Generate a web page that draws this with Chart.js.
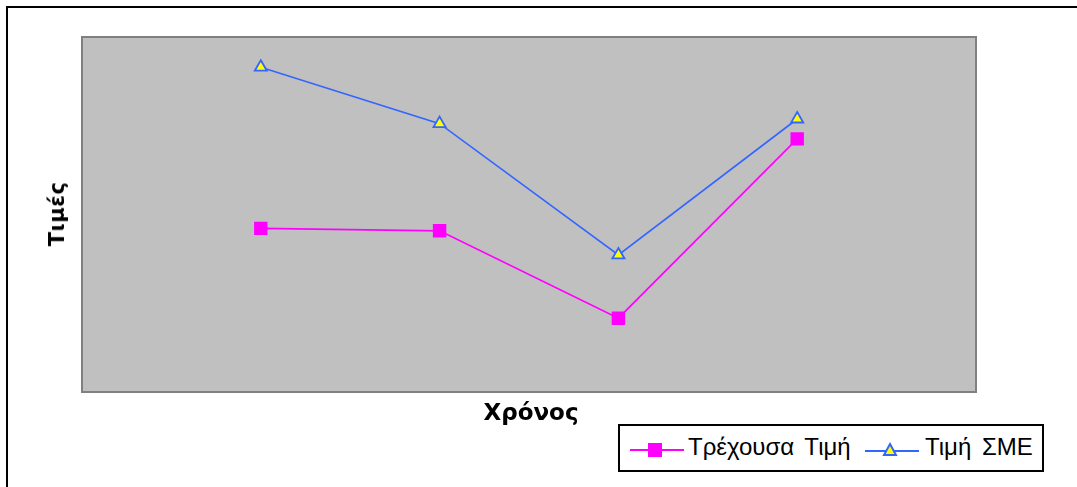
<!DOCTYPE html>
<html>
<head>
<meta charset="utf-8">
<script src="https://cdn.jsdelivr.net/npm/chart.js@4/dist/chart.umd.min.js"></script>
<style>
  html, body { margin: 0; padding: 0; background: #fff; }
  #wrap { position: relative; width: 1077px; height: 487px; overflow: hidden; }
  #frame { position: absolute; left: 6px; top: 6px; width: 1200px; height: 600px; border: 2px solid #000; }
  #chart { position: absolute; left: 0; top: 0; }
  .axis-title { position: absolute; font-family: "DejaVu Sans", sans-serif; font-weight: bold; font-size: 21px; color: #000; white-space: nowrap; }
  #xTitle { left: 531px; top: 412px; transform: translate(-50%, -50%); font-size: 23px; }
  #yTitle { left: 57px; top: 214px; transform: translate(-50%, -50%) rotate(-90deg); letter-spacing: 0.5px; }
  #legend { position: absolute; left: 618px; top: 424px; width: 422px; height: 44px; border: 2px solid #000; background: #fff;
            font-family: "Liberation Sans", Arial, sans-serif; font-size: 24px; color: #000; }
  #legend svg, #legend span { position: absolute; display: block; }
  #legend span { top: 50%; transform: translateY(-52%); white-space: nowrap; word-spacing: 4px; }
</style>
</head>
<body>
<div id="wrap">
  <div id="frame"></div>
  <canvas id="chart" width="1077" height="487"></canvas>
  <div id="xTitle" class="axis-title">Χρόνος</div>
  <div id="yTitle" class="axis-title">Τιμές</div>
  <div id="legend">
    <svg style="left:10px; top:14px" width="54" height="20"><line x1="0" y1="10" x2="54" y2="10" stroke="#FF00FF" stroke-width="2"/><rect x="18" y="3" width="14" height="14" fill="#FF00FF"/></svg>
    <span style="left:68px">Τρέχουσα Τιμή</span>
    <svg style="left:245px; top:14px" width="54" height="20"><line x1="0" y1="11" x2="54" y2="11" stroke="#3366FF" stroke-width="2"/><polygon points="25,4 31,15 19,15" fill="#FFFF00" stroke="#3366FF" stroke-width="2"/></svg>
    <span style="left:305px">Τιμή ΣΜΕ</span>
  </div>
</div>
<script>
// periods on the x axis; the first and last slots stay empty
const periods = ['', '1', '2', '3', '4', ''];
const currentPrice = [null, 46.1, 45.4, 20.8, 71.3, null];
const smePrice = [null, 91.5, 75.6, 38.6, 76.9, null];

// grey plot area with a darker frame
const plotBackground = {
  id: 'plotBackground',
  beforeDraw(chart) {
    const { ctx, chartArea: a } = chart;
    ctx.save();
    ctx.fillStyle = '#C0C0C0';
    ctx.fillRect(a.left, a.top, a.right - a.left, a.bottom - a.top);
    ctx.strokeStyle = '#808080';
    ctx.lineWidth = 2;
    ctx.strokeRect(a.left, a.top, a.right - a.left, a.bottom - a.top);
    ctx.restore();
  }
};

const canvas = document.getElementById('chart');
canvas.chart = new Chart(canvas, {
  type: 'line',
  data: {
    labels: periods,
    datasets: [
      {
        label: 'Τρέχουσα Τιμή',
        data: currentPrice,
        borderColor: '#FF00FF',
        borderWidth: 1.6,
        pointStyle: 'rect',
        pointRadius: 9.5,
        pointBackgroundColor: '#FF00FF',
        pointBorderColor: '#FF00FF',
        pointBorderWidth: 0,
        tension: 0,
      },
      {
        label: 'Τιμή ΣΜΕ',
        data: smePrice,
        borderColor: '#3366FF',
        borderWidth: 1.6,
        pointStyle: 'triangle',
        pointRadius: 7,
        pointBackgroundColor: '#FFFF00',
        pointBorderColor: '#3366FF',
        pointBorderWidth: 1.8,
        tension: 0,
      },
    ],
  },
  options: {
    responsive: false,
    animation: false,
    devicePixelRatio: 1,
    layout: { padding: { left: 82, top: 37, right: 101, bottom: 95 } },
    scales: {
      x: { display: false, offset: false },
      y: { display: false, min: 0, max: 100 },
    },
    plugins: {
      legend: { display: false },
      tooltip: { enabled: false },
    },
  },
  plugins: [plotBackground],
});
</script>
</body>
</html>
